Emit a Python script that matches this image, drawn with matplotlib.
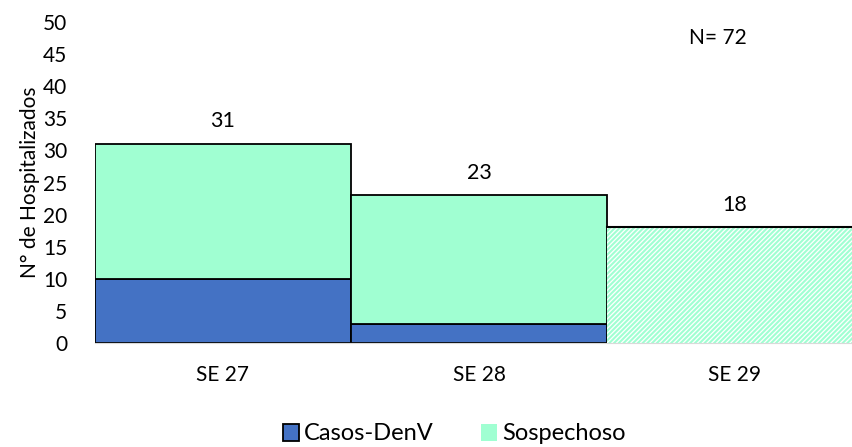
import matplotlib.pyplot as plt
import matplotlib.patches as mpatches
import numpy as np

plt.rcParams['font.family'] = ['Lato', 'DejaVu Sans']
plt.rcParams['hatch.linewidth'] = 1.5

semanas = ['SE 27', 'SE 28', 'SE 29']
casos = [10, 3, 0]
sospechoso = [21, 20, 18]
totales = [31, 23, 18]

azul = '#4472C4'
menta = '#A0FFD2'

fig = plt.figure(figsize=(8.53, 4.47), dpi=100)
ax = fig.add_axes([95/853, 1 - 343/447, 768/853, (343 - 22)/447])

x = np.arange(len(semanas))
ax.bar(x[:2], casos[:2], width=1.0, color=azul, edgecolor='black', linewidth=1.3)
ax.bar(x[:2], sospechoso[:2], bottom=casos[:2], width=1.0, color=menta,
       edgecolor='black', linewidth=1.3)
ax.bar(x[2], sospechoso[2], bottom=casos[2], width=1.0, color='white',
       edgecolor=menta, hatch='///////', linewidth=0)
# borde superior de la barra rayada
ax.plot([x[2] - 0.5, x[2] + 0.5], [totales[2], totales[2]], color='black', lw=1.5)

for i, t in enumerate(totales):
    ax.text(x[i], t + 2.0, str(t), ha='center', va='bottom', fontsize=15.5)

ax.text(1.82, 47.5, 'N= 72', ha='left', va='center', fontsize=15)

ax.set_xlim(-0.5, 2.5)
ax.set_ylim(0, 50)
ax.set_yticks(range(0, 51, 5))
ax.set_xticks(x)
ax.set_xticklabels(semanas)
ax.tick_params(axis='both', length=0, labelsize=15)
ax.tick_params(axis='y', pad=20)
ax.tick_params(axis='x', pad=16)
ax.set_ylabel('N° de Hospitalizados', fontsize=15, labelpad=2)
for s in ['top', 'right', 'left']:
    ax.spines[s].set_visible(False)
ax.spines['bottom'].set_color('#D9D9D9')

h1 = mpatches.Patch(facecolor=azul, edgecolor='black', linewidth=1.3, label='Casos-DenV')
h2 = mpatches.Patch(facecolor=menta, edgecolor='none', label='Sospechoso')
fig.legend(handles=[h1, h2], loc='center', bbox_to_anchor=(454/853, 1 - 434/447),
           ncol=2, frameon=False, fontsize=17, handlelength=0.7, handleheight=0.7,
           handletextpad=0.2, columnspacing=2.0, borderpad=0.1)

fig.savefig('out.png', dpi=100)
